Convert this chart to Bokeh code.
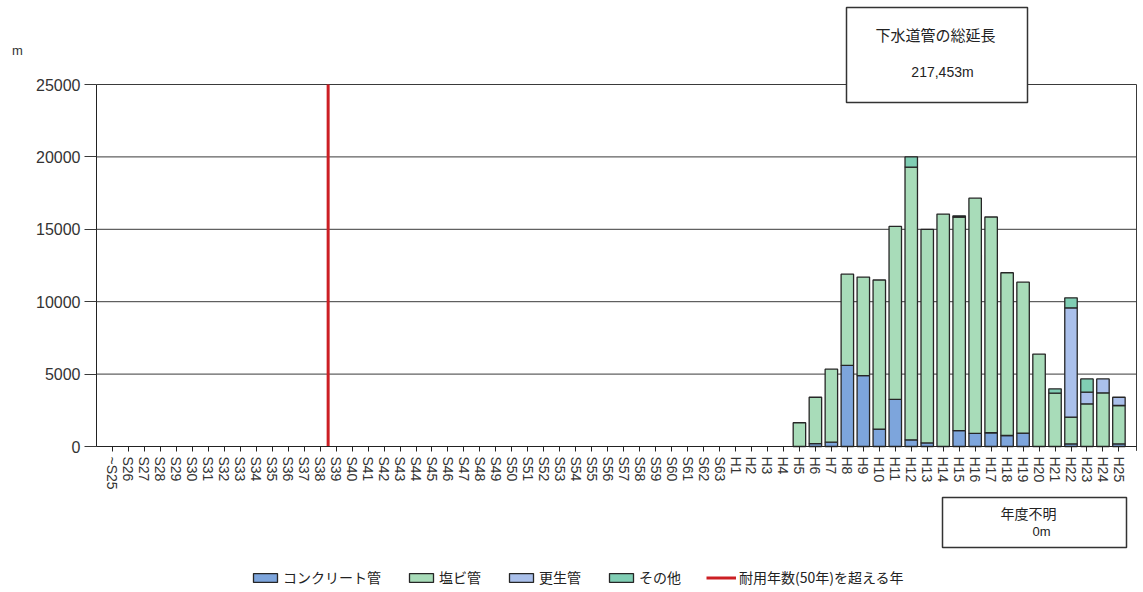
import math
from bokeh.plotting import figure
from bokeh.models import (ColumnDataSource, FixedTicker, Label, BoxAnnotation,
                          Legend, LegendItem, Range1d)
from bokeh.embed import file_html
from bokeh.resources import INLINE

# ---------------- data ----------------
categories = (["~S25"] + ["S%d" % i for i in range(26, 64)] +
              ["H%d" % i for i in range(1, 26)])

# S-era (~S25 .. S63): 39 categories, all zero
showa_concrete = [0, 0, 0, 0, 0, 0, 0, 0, 0, 0, 0, 0, 0, 0, 0, 0, 0, 0, 0, 0,
                  0, 0, 0, 0, 0, 0, 0, 0, 0, 0, 0, 0, 0, 0, 0, 0, 0, 0, 0]
showa_pvc = [0, 0, 0, 0, 0, 0, 0, 0, 0, 0, 0, 0, 0, 0, 0, 0, 0, 0, 0, 0,
             0, 0, 0, 0, 0, 0, 0, 0, 0, 0, 0, 0, 0, 0, 0, 0, 0, 0, 0]
showa_renewed = [0, 0, 0, 0, 0, 0, 0, 0, 0, 0, 0, 0, 0, 0, 0, 0, 0, 0, 0, 0,
                 0, 0, 0, 0, 0, 0, 0, 0, 0, 0, 0, 0, 0, 0, 0, 0, 0, 0, 0]
showa_other = [0, 0, 0, 0, 0, 0, 0, 0, 0, 0, 0, 0, 0, 0, 0, 0, 0, 0, 0, 0,
               0, 0, 0, 0, 0, 0, 0, 0, 0, 0, 0, 0, 0, 0, 0, 0, 0, 0, 0]

# H-era (H1 .. H25)
heisei_concrete = [0, 0, 0, 0, 0, 200, 300, 5600, 4900, 1200, 3250, 460, 250,
                   0, 1100, 900, 950, 760, 930, 0, 0, 180, 0, 0, 180]
heisei_pvc = [0, 0, 0, 0, 1640, 3200, 5040, 6300, 6800, 10300, 11950, 18840,
              14750, 16050, 14750, 16250, 14900, 11240, 10420, 6380, 3680,
              1850, 2950, 3710, 2650]
heisei_renewed = [0, 0, 0, 0, 0, 0, 0, 0, 0, 0, 0, 0, 0, 0, 0, 0, 0, 0, 0, 0,
                  0, 7550, 800, 960, 570]
heisei_other = [0, 0, 0, 0, 0, 0, 0, 0, 0, 0, 0, 700, 0, 0, 80, 0, 0, 0, 0, 0,
                300, 690, 920, 0, 0]

concrete = showa_concrete + heisei_concrete
pvc = showa_pvc + heisei_pvc
renewed = showa_renewed + heisei_renewed
other = showa_other + heisei_other

series_keys = ["concrete", "pvc", "renewed", "other"]
series_names = ["コンクリート管", "塩ビ管", "更生管", "その他"]
series_colors = ["#7DA5DC", "#A8DCB9", "#AAC0EB", "#80CEB4"]
limit_label = "耐用年数(50年)を超える年"
limit_after = "S38"          # red line between S38 and S39
y_ticks = [0, 5000, 10000, 15000, 20000, 25000]

total_title = "下水道管の総延長"
total_value = "217,453m"
unknown_title = "年度不明"
unknown_value = "0m"
y_unit = "m"

# ---------------- layout ----------------
W, H = 1140, 590
# plot area in canvas pixels
AREA_L, AREA_R, AREA_T, AREA_B = 96, 1136, 84, 446
CAT_L, CAT_R = -1.0, len(categories) + 0.1
Y_LO, Y_HI = y_ticks[0], y_ticks[-1]
PPX = (AREA_R - AREA_L) / (CAT_R - CAT_L)
PPY = (AREA_B - AREA_T) / (Y_HI - Y_LO)


def dx(sx):
    return CAT_L + (sx - AREA_L) / PPX


def dy(sy):
    return Y_LO + (AREA_B - sy) / PPY


p = figure(width=W, height=H, output_backend="svg", toolbar_location=None,
           x_range=Range1d(dx(0), dx(W)), y_range=Range1d(dy(H), dy(0)),
           min_border=0)
p.background_fill_color = "white"
p.border_fill_color = "white"
p.outline_line_color = None
p.xgrid.visible = False
p.ygrid.visible = False

GRID = "#3a3a3a"
# horizontal grid lines (incl. top border) and right border of plot area
p.segment(x0=[CAT_L] * len(y_ticks), x1=[CAT_R] * len(y_ticks),
          y0=y_ticks, y1=y_ticks, line_color=GRID, line_width=1)
p.segment(x0=[CAT_R], x1=[CAT_R], y0=[Y_LO - 300], y1=[Y_HI],
          line_color=GRID, line_width=1)

data = dict(x=list(range(len(categories))), concrete=concrete, pvc=pvc,
            renewed=renewed, other=other)
for k in series_keys:
    data[k + "_la"] = [1.0 if v > 0 else 0.0 for v in data[k]]
source = ColumnDataSource(data)

bars = p.vbar_stack(series_keys, x="x", width=0.78,
                    color=series_colors, line_color="#262626", line_width=1.3,
                    line_alpha=[k + "_la" for k in series_keys],
                    source=source)

pos = categories.index(limit_after) + 0.5
red = p.line(x=[pos, pos], y=[Y_LO, Y_HI], line_color="#CC1F24", line_width=3)

# axes placed inside the (full-canvas) frame
p.yaxis.fixed_location = CAT_L
p.yaxis.bounds = (Y_LO, Y_HI)
p.yaxis.ticker = FixedTicker(ticks=y_ticks)
p.yaxis.major_tick_out = 12
p.yaxis.major_tick_in = 0
p.yaxis.minor_tick_line_color = None
p.yaxis.axis_line_color = "#222222"
p.yaxis.major_tick_line_color = GRID
p.yaxis.major_label_text_font = "Liberation Sans"
p.yaxis.major_label_text_font_size = "16px"
p.yaxis.major_label_text_color = "#333333"
p.yaxis.major_label_standoff = 4

p.xaxis.fixed_location = Y_LO
p.xaxis.bounds = (CAT_L, CAT_R)
p.xaxis.ticker = FixedTicker(ticks=list(range(len(categories))))
p.xaxis.major_label_overrides = {i: c for i, c in enumerate(categories)}
p.xaxis.major_label_orientation = -math.pi / 2
p.xaxis.major_tick_out = 5
p.xaxis.major_tick_in = 0
p.xaxis.minor_tick_line_color = None
p.xaxis.axis_line_color = "#222222"
p.xaxis.major_tick_line_color = "#222222"
p.xaxis.major_label_text_font = "Liberation Sans"
p.xaxis.major_label_text_font_size = "14px"
p.xaxis.major_label_text_color = "#333333"
p.xaxis.major_label_standoff = 5

# legend (swatches drawn from a row where every segment is present)
legend_row = categories.index("H22")
items = [LegendItem(label=n, renderers=[r], index=legend_row)
         for n, r in zip(series_names, bars)]
items.append(LegendItem(label=limit_label, renderers=[red]))
legend = Legend(items=items, orientation="horizontal", location=(250, H - 587),
                glyph_width=30, glyph_height=11, label_standoff=3, spacing=25,
                padding=0, margin=0, border_line_alpha=0,
                background_fill_alpha=0,
                label_text_font="Noto Sans CJK JP",
                label_text_font_size="14px", label_text_color="#222222")
p.add_layout(legend)

# boxes
jp = "Noto Sans CJK JP"
p.add_layout(BoxAnnotation(left=dx(846), right=dx(1027), top=dy(7), bottom=dy(102),
                           fill_color="white", fill_alpha=1, line_color="#333333",
                           line_alpha=1, line_width=1.5))
p.add_layout(Label(x=dx(935), y=dy(34), text=total_title, text_align="center",
                   text_baseline="middle", text_font=jp, text_font_size="15px",
                   text_color="#222222"))
p.add_layout(Label(x=dx(942), y=dy(71), text=total_value, text_align="center",
                   text_baseline="middle", text_font="Liberation Sans",
                   text_font_size="14px", text_color="#222222"))

p.add_layout(BoxAnnotation(left=dx(942), right=dx(1126), top=dy(497), bottom=dy(547),
                           fill_color="white", fill_alpha=1, line_color="#333333",
                           line_alpha=1, line_width=1.5))
p.add_layout(Label(x=dx(1028), y=dy(512), text=unknown_title, text_align="center",
                   text_baseline="middle", text_font=jp, text_font_size="14px",
                   text_color="#222222"))
p.add_layout(Label(x=dx(1041), y=dy(531), text=unknown_value, text_align="center",
                   text_baseline="middle", text_font="Liberation Sans",
                   text_font_size="13px", text_color="#222222"))

p.add_layout(Label(x=dx(17), y=dy(50), text=y_unit, text_align="center",
                   text_baseline="middle", text_font="Liberation Sans",
                   text_font_size="13px", text_color="#333333"))

open("out.html", "w").write(file_html(p, INLINE))
